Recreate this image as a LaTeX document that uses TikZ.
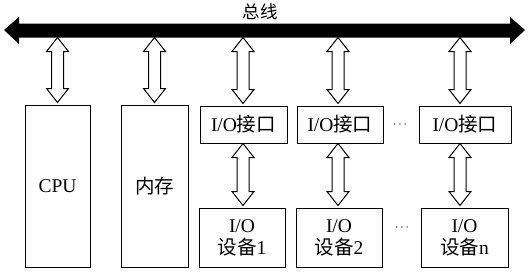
\documentclass[tikz,border=0pt]{standalone}
\usepackage{fontspec}
\setmainfont{Liberation Serif}
\newfontfamily\cjk{Noto Sans CJK SC}
\usetikzlibrary{calc}
\tikzset{
  box/.style={draw=black,line width=1pt,inner sep=0pt,align=center,
    font=\fontsize{19.5}{22}\selectfont},
  hollowarr/.style={draw=black,fill=white,line width=1pt,line join=miter},
  dotsl/.style={inner sep=0pt,font=\fontsize{12}{14}\selectfont}
}
\newcommand\dblarr[2]{%
  \draw[hollowarr] let \p1=#1, \p2=#2, \n1={\y1-\y2-28pt} in
    (\p1) -- ++(11,14) -- ++(-5,0) -- ++(0pt,-\n1) -- ++(5,0) -- (\x1,\y2)
    -- ++(-11,-14) -- ++(5,0) -- ++(0pt,\n1) -- ++(-5,0) -- cycle;}
\begin{document}
\begin{tikzpicture}[x=1pt,y=-1pt]
\useasboundingbox (0,0) rectangle (531,273);
% bus
\coordinate (busL) at (4,30);
\coordinate (busR) at (525,30);
\coordinate (busB) at (0,37.5);
\fill[black] (busL) -- ++(15,-13) -- ++(0,6.5) -- ($(busR)+(-15,-6.5)$) -- ++(0,-6.5)
  -- (busR) -- ++(-15,14) -- ++(0,-6.5) -- ($(busL)+(15,7.5)$) -- ++(0,6.5) -- cycle;
\node[font=\cjk\fontsize{17.5}{20}\selectfont] (bus) at (260,12) {总线};
% boxes
\node[box,minimum width=65pt,minimum height=162pt] (cpu) at (57.5,186) {CPU};
\node[box,minimum width=67pt,minimum height=162pt] (mem) at (154.5,186) {\cjk 内存};
\node[box,minimum width=87pt,minimum height=37pt] (if1) at (243.5,124.5) {I/O{\cjk 接口}};
\node[box,minimum width=86pt,minimum height=37pt] (if2) at (340,124.5) {I/O{\cjk 接口}};
\node[box,minimum width=92pt,minimum height=37pt] (if3) at (465,124.5) {I/O{\cjk 接口}};
\node[box,minimum width=86pt,minimum height=59pt] (dev1) at (242,237.5) {I/O\\{\cjk 设备}1};
\node[box,minimum width=86pt,minimum height=59pt] (dev2) at (339,237.5) {I/O\\{\cjk 设备}2};
\node[box,minimum width=87pt,minimum height=59pt] (devn) at (464.5,237.5) {I/O\\{\cjk 设备}n};
\node[dotsl] (d1) at (400,125) {$\cdots$};
\node[dotsl] (d2) at (402,228) {$\cdots$};
% bus arrows
\dblarr{(cpu.north |- busB)}{([yshift=2]cpu.north)}
\dblarr{(mem.north |- busB)}{([yshift=2]mem.north)}
\dblarr{([xshift=-0.5]if1.north |- busB)}{([xshift=-0.5,yshift=2]if1.north)}
\dblarr{([xshift=-2]if2.north |- busB)}{([xshift=-2,yshift=2]if2.north)}
\dblarr{([xshift=-5]if3.north |- busB)}{([xshift=-5,yshift=2]if3.north)}
% interface-device arrows
\dblarr{([xshift=-0.5]if1.south)}{([xshift=-0.5,yshift=2]if1.south |- dev1.north)}
\dblarr{([xshift=-2]if2.south)}{([xshift=-2,yshift=2]if2.south |- dev2.north)}
\dblarr{([xshift=-5]if3.south)}{([xshift=-5,yshift=2]if3.south |- devn.north)}
\end{tikzpicture}
\end{document}
